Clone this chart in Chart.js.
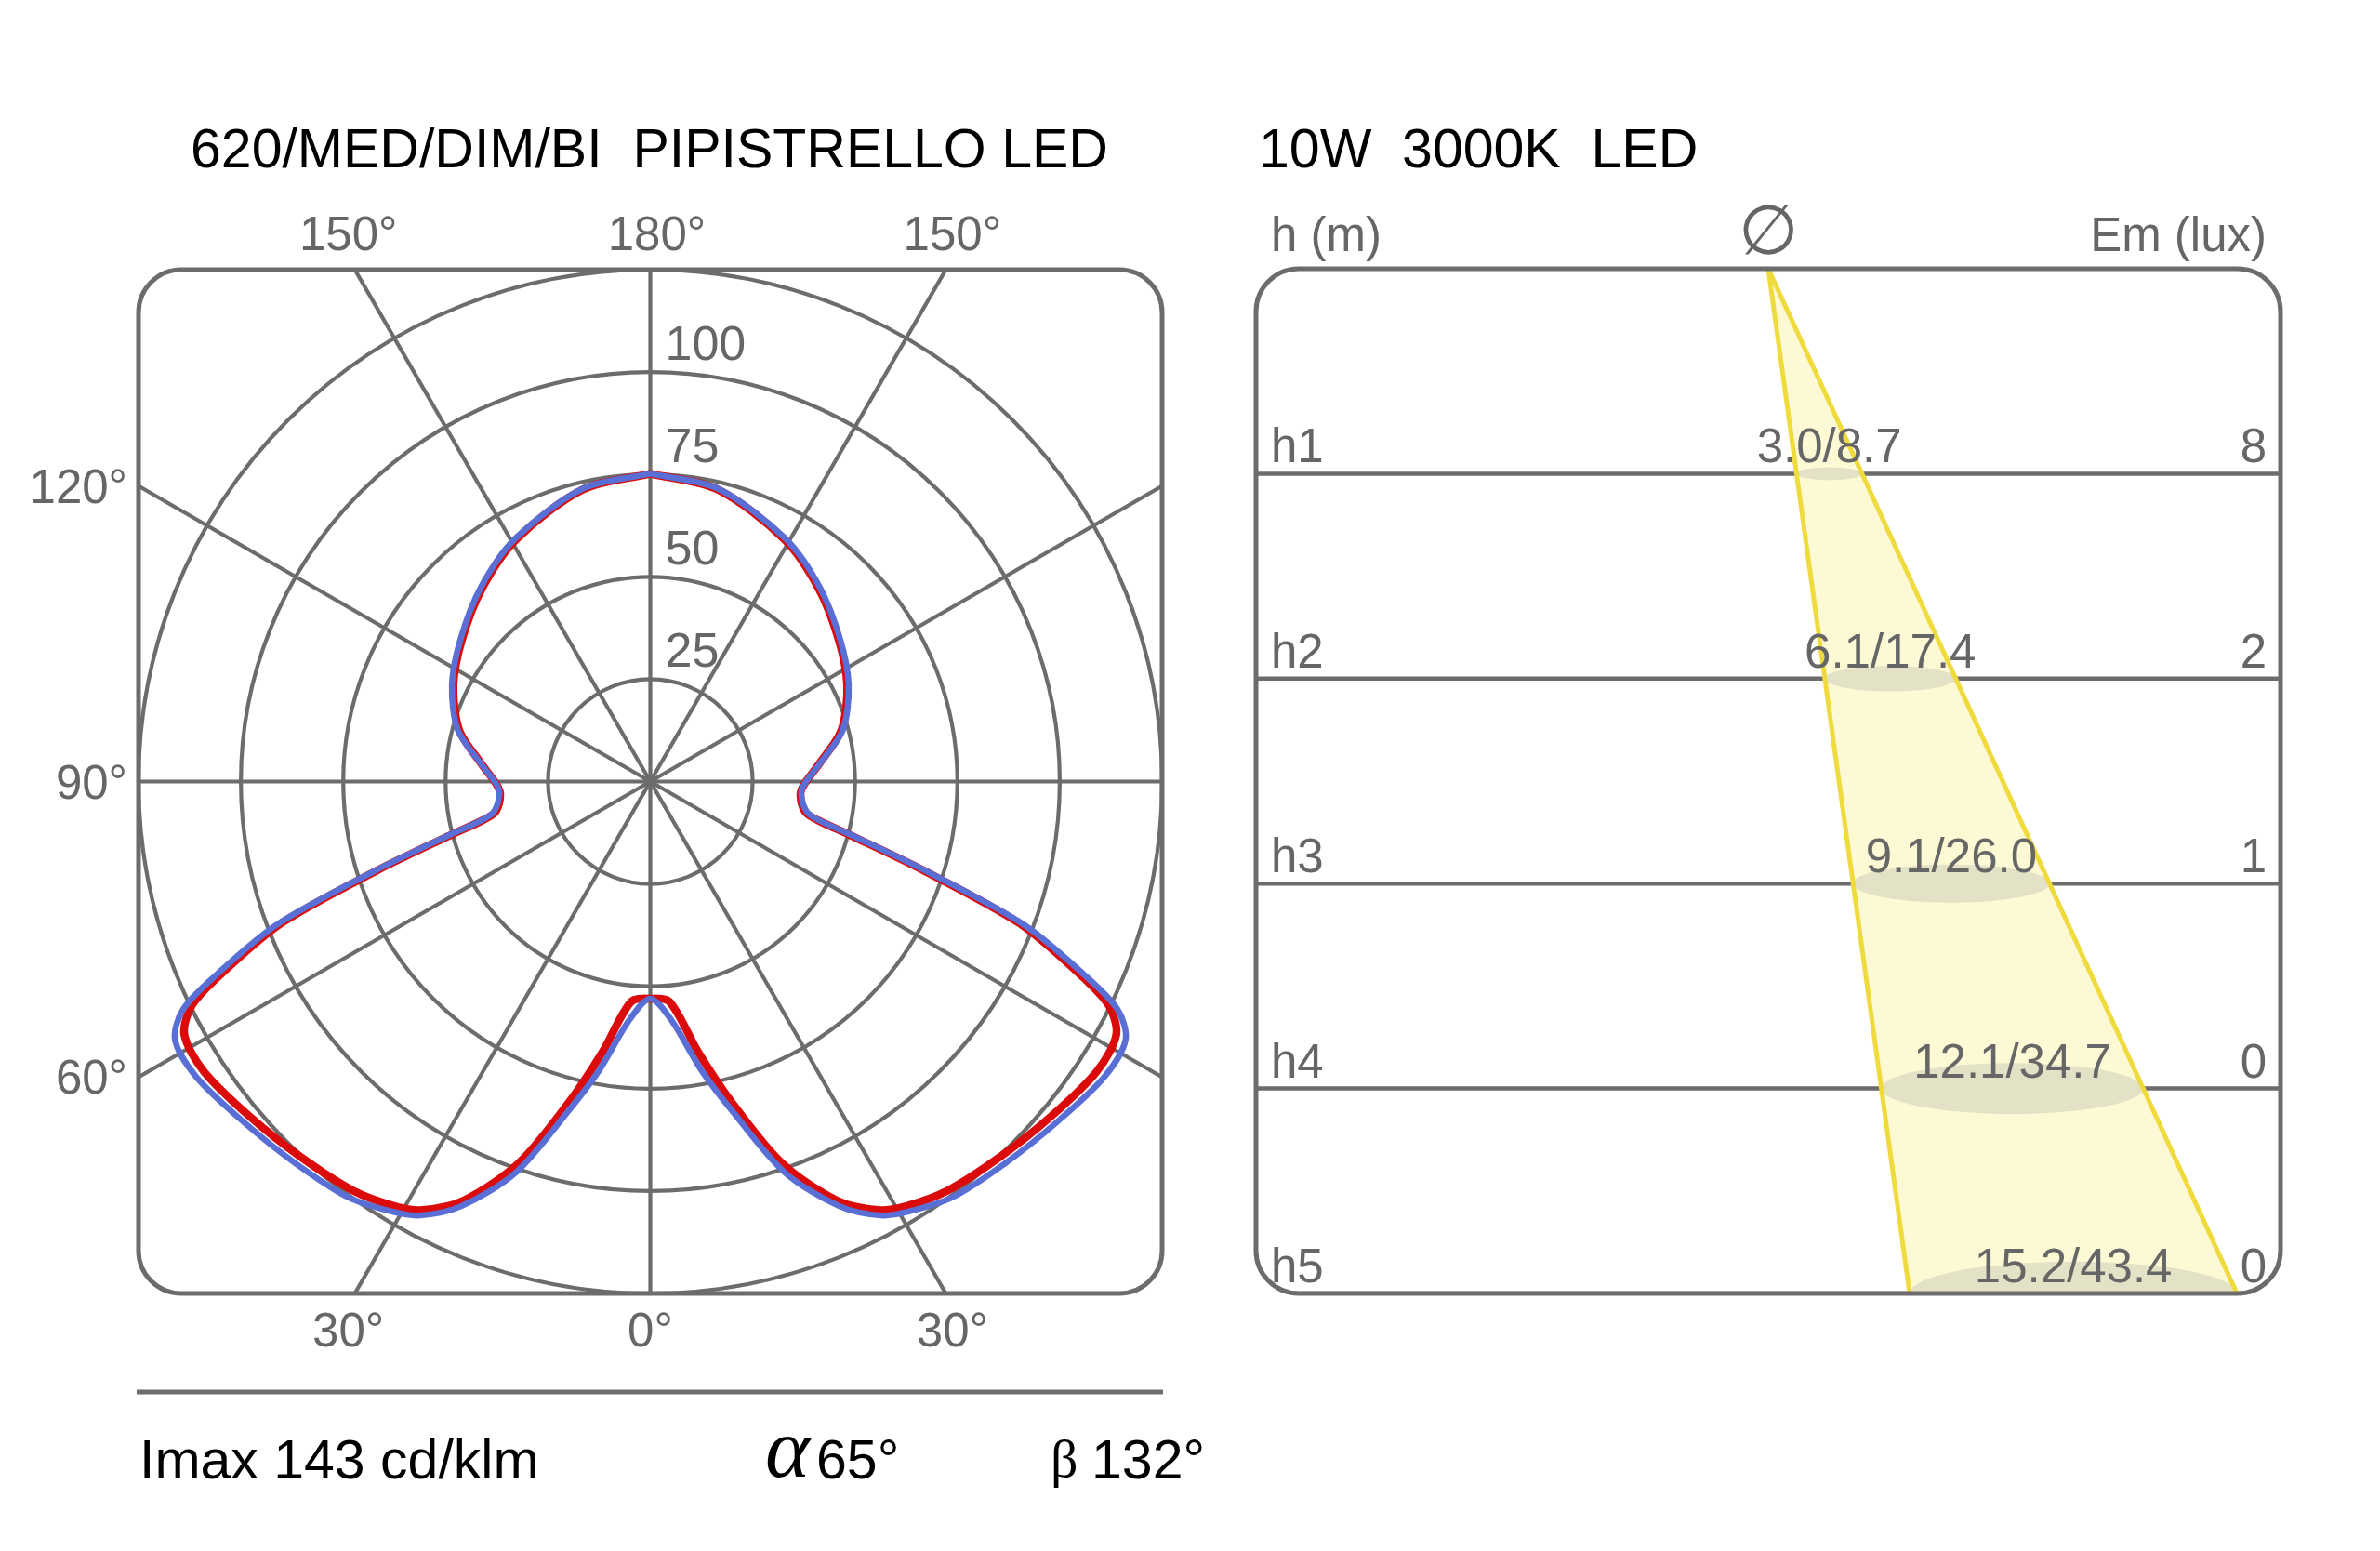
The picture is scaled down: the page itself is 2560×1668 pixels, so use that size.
<!DOCTYPE html>
<html>
<head>
<meta charset="utf-8">
<script src="https://cdn.jsdelivr.net/npm/chart.js@4.4.1/dist/chart.umd.min.js"></script>
<style>
  html, body { margin: 0; padding: 0; background: #fff; }
  #wrap { position: relative; width: 2560px; height: 1668px; }
  canvas { position: absolute; top: 0; }
  #polar_chart { left: 0; }
  #cone_chart { left: 1300px; }
</style>
</head>
<body>
<div id="wrap">
  <canvas id="polar_chart" width="1300" height="1668"></canvas>
  <canvas id="cone_chart" width="1260" height="1668"></canvas>
</div>
<script>
// --- polar diagram data (cd/klm) ---
const gammaDeg = [0, 5, 10, 14, 19, 24, 28, 31, 36, 43, 50, 57, 61.5, 64, 66, 69, 72, 75, 77, 79, 85, 89, 96, 105, 116, 127, 139, 151, 167, 180];
const c90Values = [53, 58.4, 71.5, 83, 101, 113.5, 120, 122.5, 125.5, 127.3, 129.5, 132.3, 132.1, 127, 116, 98, 71, 51.3, 42.5, 39, 37, 37.6, 41.6, 48.7, 53.9, 58, 63, 67.9, 73.4, 75.2];
const c0Values = [53, 54, 67, 80, 98.5, 112, 118.5, 121, 123.5, 125.3, 127.5, 130, 129.5, 124.5, 114, 96.5, 70, 50.5, 42, 38.5, 36.8, 37.6, 41.5, 48.3, 53.5, 57.6, 62.6, 67.6, 73.2, 75.2];
const ringValues = [25, 50, 75, 100, 125];
const ringLabels = ['25', '50', '75', '100'];
const topTickAngles = [-150, 180, 150];   // negative = left half
const leftTickAngles = [120, 90, 60];
const bottomTickAngles = [-30, 0, 30];

// --- cone diagram data ---
const levels = ['h1', 'h2', 'h3', 'h4', 'h5'];
const beamDiameters = ['3.0/8.7', '6.1/17.4', '9.1/26.0', '12.1/34.7', '15.2/43.4'];
const illuminance = ['8', '2', '1', '0', '0'];
const coneApexX = 0;
const coneBaseX = [27.6, 91.5];   // cone edges where they meet h5

const titleLeft = '620/MED/DIM/BI  PIPISTRELLO LED';
const titleRight = '10W  3000K  LED';

const LINE = '#6c6c6c';
const TXT = '#666666';
const FONT = "'Liberation Sans', Arial, Helvetica, sans-serif";
const SERIF = "'Liberation Serif', 'Times New Roman', serif";

function boxPath(ctx, l, t, r, b, rad) {
  ctx.beginPath();
  ctx.moveTo(l + rad, t);
  ctx.lineTo(r - rad, t);
  ctx.arcTo(r, t, r, t + rad, rad);
  ctx.lineTo(r, b - rad);
  ctx.arcTo(r, b, r - rad, b, rad);
  ctx.lineTo(l + rad, b);
  ctx.arcTo(l, b, l, b - rad, rad);
  ctx.lineTo(l, t + rad);
  ctx.arcTo(l, t, l + rad, t, rad);
  ctx.closePath();
}

function polarPoints(values, side) {
  return gammaDeg.map((g, i) => ({
    x: side * values[i] * Math.sin(g * Math.PI / 180),
    y: -values[i] * Math.cos(g * Math.PI / 180)
  }));
}
function closedCurve(values) {
  const right = polarPoints(values, 1).reverse();
  const left = polarPoints(values, -1).slice(1);
  return right.concat(left);
}

const polarGrid = {
  id: 'polarGrid',
  beforeDatasetsDraw(chart) {
    const { ctx, chartArea: a, scales: { x, y } } = chart;
    const cx = x.getPixelForValue(0), cy = y.getPixelForValue(0);
    const unit = x.getPixelForValue(1) - cx;
    ctx.save();
    boxPath(ctx, a.left, a.top, a.right, a.bottom, 46);
    ctx.clip();
    ctx.strokeStyle = LINE;
    ctx.lineWidth = 4.2;
    ringValues.forEach(v => {
      ctx.beginPath();
      ctx.arc(cx, cy, v * unit, 0, Math.PI * 2);
      ctx.stroke();
    });
    for (let d = 0; d < 360; d += 30) {
      const t = d * Math.PI / 180;
      ctx.beginPath();
      ctx.moveTo(cx, cy);
      ctx.lineTo(cx + Math.sin(t) * 2000, cy + Math.cos(t) * 2000);
      ctx.stroke();
    }
    ctx.restore();

    ctx.save();
    ctx.fillStyle = TXT;
    ctx.font = '52px ' + FONT;
    ctx.textAlign = 'left';
    ctx.textBaseline = 'alphabetic';
    ringLabels.forEach((lab, i) => {
      ctx.fillText(lab, cx + 16, cy - ringValues[i] * unit - 13);
    });
    ctx.restore();
  },
  afterDraw(chart) {
    const { ctx, chartArea: a, scales: { x, y } } = chart;
    const cx = x.getPixelForValue(0), cy = y.getPixelForValue(0);
    const R = a.right - cx;
    ctx.save();
    ctx.strokeStyle = LINE;
    ctx.lineWidth = 5;
    boxPath(ctx, a.left, a.top, a.right, a.bottom, 46);
    ctx.stroke();

    ctx.fillStyle = TXT;
    ctx.font = '51px ' + FONT;
    ctx.textAlign = 'center';
    ctx.textBaseline = 'alphabetic';
    topTickAngles.forEach(g => {
      const s = Math.sign(g), gg = Math.abs(g);
      const px = cx + s * (R * Math.tan((180 - gg) * Math.PI / 180) + 7);
      ctx.fillText(gg + '°', px, a.top - 21);
    });
    bottomTickAngles.forEach(g => {
      const s = Math.sign(g), gg = Math.abs(g);
      const px = cx + s * (R * Math.tan(gg * Math.PI / 180) + 7);
      ctx.fillText(gg + '°', px, a.bottom + 57);
    });
    ctx.textAlign = 'right';
    ctx.textBaseline = 'middle';
    leftTickAngles.forEach(g => {
      const t = g * Math.PI / 180;
      const py = cy + R * Math.cos(t) / Math.sin(t);
      ctx.fillText(g + '°', a.left - 12, py + 4);
    });

    // title
    ctx.fillStyle = '#000';
    ctx.textAlign = 'left';
    ctx.textBaseline = 'alphabetic';
    ctx.font = '59px ' + FONT;
    ctx.fillText(titleLeft, 205, 180);

    // footer
    ctx.strokeStyle = LINE;
    ctx.lineWidth = 5;
    ctx.beginPath();
    ctx.moveTo(a.left - 2, 1497);
    ctx.lineTo(a.right + 1, 1497);
    ctx.stroke();
    ctx.fillText('Imax 143 cd/klm', 150, 1590);
    ctx.font = 'italic 92px ' + SERIF;
    ctx.fillText('α', 823, 1588);
    ctx.font = '59px ' + FONT;
    ctx.fillText('65°', 878, 1590);
    ctx.font = '58px ' + SERIF;
    ctx.fillText('β', 1130, 1588);
    ctx.font = '59px ' + FONT;
    ctx.fillText('132°', 1174, 1590);
    ctx.restore();
  }
};

new Chart(document.getElementById('polar_chart'), {
  type: 'scatter',
  data: {
    datasets: [
      { label: 'C90-C270', data: closedCurve(c90Values), showLine: true, borderColor: '#5a6fd6', borderWidth: 6.5, pointRadius: 0, tension: 0.3, order: 1 },
      { label: 'C0-C180', data: closedCurve(c0Values), showLine: true, borderColor: '#dc0b0b', borderWidth: 8.5, pointRadius: 0, tension: 0.3, order: 2 }
    ]
  },
  options: {
    responsive: false,
    animation: false,
    devicePixelRatio: 1,
    layout: { padding: { left: 149, right: 50, top: 290, bottom: 277 } },
    plugins: { legend: { display: false }, tooltip: { enabled: false } },
    scales: {
      x: { type: 'linear', min: -125, max: 125, display: false },
      y: { type: 'linear', min: -125, max: 125, display: false }
    }
  },
  plugins: [polarGrid]
});

// --- cone diagram ---
function edgeAt(level, edge) {
  return coneApexX + (coneBaseX[edge] - coneApexX) * level / levels.length;
}

const coneDecor = {
  id: 'coneDecor',
  beforeDatasetsDraw(chart) {
    const { ctx, chartArea: a, scales: { x, y } } = chart;
    ctx.save();
    boxPath(ctx, a.left, a.top, a.right, a.bottom, 46);
    ctx.clip();
    ctx.strokeStyle = LINE;
    ctx.lineWidth = 4.5;
    levels.forEach((lab, i) => {
      const py = y.getPixelForValue(i + 1);
      ctx.beginPath();
      ctx.moveTo(a.left, py);
      ctx.lineTo(a.right, py);
      ctx.stroke();
    });
    ctx.restore();
  },
  afterDatasetDraw(chart, args) {
    if (args.index !== 0) return;
    const { ctx, chartArea: a, scales: { x, y } } = chart;
    ctx.save();
    ctx.beginPath();
    ctx.rect(a.left, a.top, a.right - a.left, a.bottom - a.top);
    ctx.clip();
    ctx.fillStyle = '#e3e2c6';
    levels.forEach((lab, i) => {
      const l = x.getPixelForValue(edgeAt(i + 1, 0));
      const r = x.getPixelForValue(edgeAt(i + 1, 1));
      const py = y.getPixelForValue(i + 1);
      const w = r - l;
      ctx.beginPath();
      ctx.ellipse((l + r) / 2, py, w / 2, w * 0.097, 0, 0, Math.PI * 2);
      ctx.fill();
    });
    ctx.restore();
  },
  afterDraw(chart) {
    const { ctx, chartArea: a, scales: { x, y } } = chart;
    ctx.save();
    ctx.strokeStyle = LINE;
    ctx.lineWidth = 5;
    boxPath(ctx, a.left, a.top, a.right, a.bottom, 46);
    ctx.stroke();

    ctx.fillStyle = TXT;
    ctx.font = '51px ' + FONT;
    ctx.textBaseline = 'alphabetic';
    levels.forEach((lab, i) => {
      const py = y.getPixelForValue(i + 1) - 12;
      const mid = x.getPixelForValue((edgeAt(i + 1, 0) + edgeAt(i + 1, 1)) / 2);
      ctx.textAlign = 'left';
      ctx.fillText(lab, a.left + 16, py);
      ctx.textAlign = 'center';
      ctx.fillText(beamDiameters[i], mid, py);
      ctx.textAlign = 'right';
      ctx.fillText(illuminance[i], a.right - 15, py);
    });
    // header
    ctx.textAlign = 'left';
    ctx.fillText('h (m)', a.left + 16, a.top - 19);
    ctx.textAlign = 'right';
    ctx.fillText('Em (lux)', a.right - 15, a.top - 19);
    ctx.textAlign = 'center';
    ctx.font = '74px ' + FONT;
    ctx.fillText('∅', x.getPixelForValue(coneApexX), a.top - 16);

    ctx.fillStyle = '#000';
    ctx.textAlign = 'left';
    ctx.font = '59px ' + FONT;
    ctx.fillText(titleRight, 54, 180);
    ctx.restore();
  }
};

const nLev = levels.length;
new Chart(document.getElementById('cone_chart'), {
  type: 'scatter',
  data: {
    datasets: [
      { label: 'beam', data: [{ x: coneApexX, y: 0 }, { x: coneBaseX[0], y: nLev }, { x: coneBaseX[1], y: nLev }, { x: coneApexX, y: 0 }],
        showLine: true, fill: 'shape', backgroundColor: '#fcf9d4', borderWidth: 0, pointRadius: 0, tension: 0, order: 3 },
      { label: 'edgeL', data: [{ x: coneApexX, y: 0 }, { x: coneBaseX[0], y: nLev }],
        showLine: true, borderColor: '#efdb3e', borderWidth: 5, pointRadius: 0, order: 1 },
      { label: 'edgeR', data: [{ x: coneApexX, y: 0 }, { x: coneBaseX[1], y: nLev }],
        showLine: true, borderColor: '#efdb3e', borderWidth: 5, pointRadius: 0, order: 1 }
    ]
  },
  options: {
    responsive: false,
    animation: false,
    devicePixelRatio: 1,
    layout: { padding: { left: 51, right: 107, top: 289, bottom: 277 } },
    plugins: { legend: { display: false }, tooltip: { enabled: false } },
    scales: {
      x: { type: 'linear', min: -100, max: 100, display: false },
      y: { type: 'linear', min: 0, max: nLev, reverse: true, display: false }
    }
  },
  plugins: [coneDecor]
});
</script>
</body>
</html>
